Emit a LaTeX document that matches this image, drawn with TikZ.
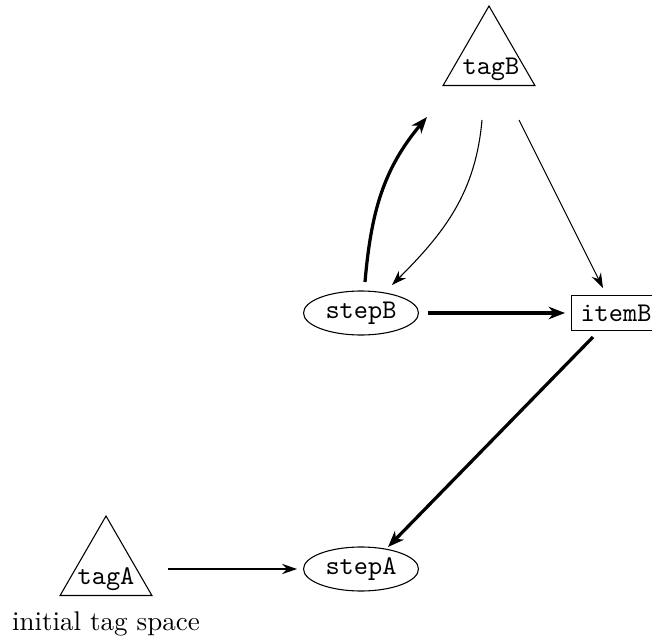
\documentclass[tikz,border=0pt]{standalone}
\usetikzlibrary{shapes.geometric,arrows.meta,calc}
\def\pxunit{0.37pt}
\begin{document}
\begin{tikzpicture}[x=\pxunit,y=\pxunit,
  every node/.style={font=\ttfamily},
  tagspace/.style={regular polygon, regular polygon sides=3, draw,
    minimum size={106*\pxunit}, inner sep=0pt, outer sep=0pt},
  stepnode/.style={ellipse, draw, minimum width={115*\pxunit},
    minimum height={44*\pxunit}, inner sep=0pt},
  itemnode/.style={rectangle, draw, minimum height={32*\pxunit}},
  conn/.style={-{Stealth[length=5.5pt,width=3.8pt,inset=1.8pt]}, line width=0.4pt},
  heavy/.style={-{Stealth[length=6pt,width=4.6pt,inset=1.8pt]}, line width=1.2pt},
]
\useasboundingbox (0,0) rectangle (652,-643);

% tag collections
\node[tagspace] (tagB) at (489,-59) {};
\node (tagBtext) at ($(tagB.center)+(2,-10)$) {tagB};
\node[tagspace] (tagA) at (106,-569) {};
\node (tagAtext) at ($(tagA.center)+(0,-10)$) {tagA};
\node[font=\rmfamily, anchor=base] (tagAcaption) at (106,-630) {initial tag space};

% steps and items
\node[stepnode] (stepB) at (361,-313) {stepB};
\node[stepnode] (stepA) at (361,-569) {stepA};
\node[itemnode] (itemB) at (616,-313) {itemB};

% dependencies
\draw[conn] ($(tagA.center)+(62,0)$) -- ($(stepA.center)+(-64,0)$);
\draw[heavy] ($(stepB.center)+(67,0)$) -- ($(itemB.center)+(-51,0)$);
\draw[heavy] ($(itemB.center)+(-23,-24)$) -- ($(stepA.center)+(27,22)$);
\draw[conn] ($(tagB.center)+(30,-61)$) -- ($(itemB.center)+(-13,25)$);
\draw[conn] ($(tagB.center)+(-7,-61)$) to[out=-95,in=45] ($(stepB.center)+(31,28)$);
\draw[heavy] ($(stepB.center)+(4,31)$) to[out=85,in=-130] ($(tagB.center)+(-62,-58)$);
\end{tikzpicture}
\end{document}
